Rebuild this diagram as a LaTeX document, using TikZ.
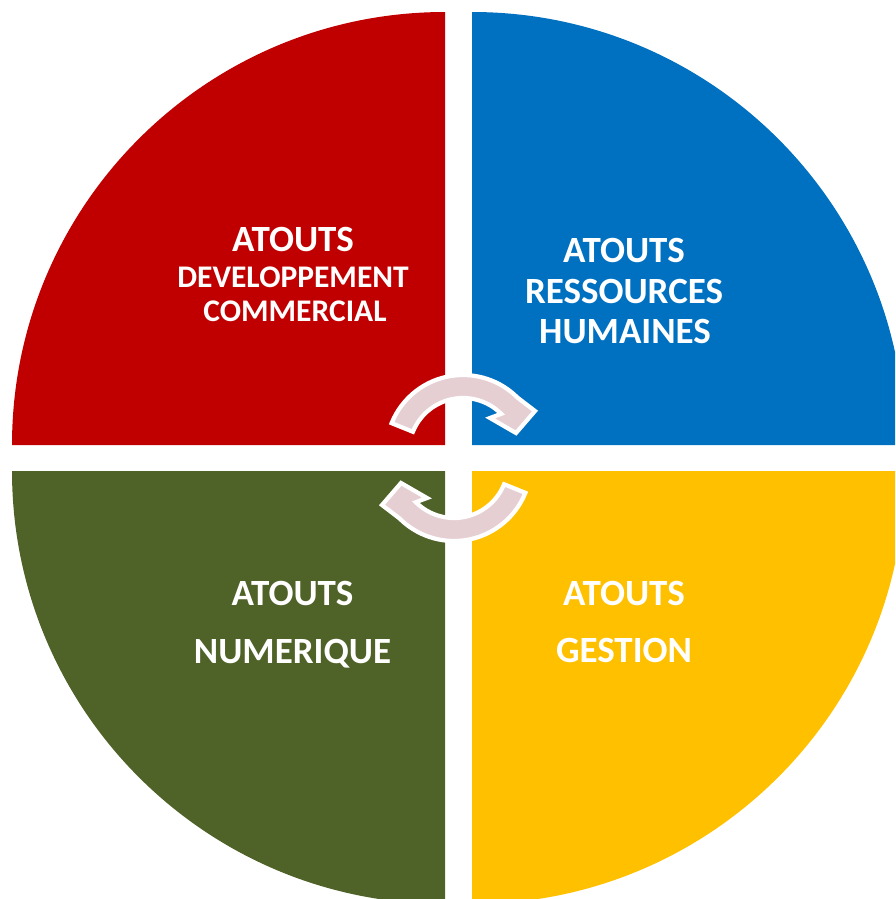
\documentclass[tikz,border=0pt]{standalone}
\usepackage{fontspec}
\setmainfont{Carlito}
\usetikzlibrary{calc}
\definecolor{qred}{HTML}{C00000}
\definecolor{qblue}{HTML}{0070C0}
\definecolor{qgreen}{HTML}{4F6228}
\definecolor{qyellow}{HTML}{FFC000}
\definecolor{arrowpink}{RGB}{230,207,211}
\tikzset{
  quad/.style={draw=none},
  lbl/.style={text=white, font=\fontsize{37}{37}\selectfont\bfseries, anchor=base, inner sep=0pt},
  lblsmall/.style={text=white, font=\fontsize{31.5}{31.5}\selectfont\bfseries, anchor=base, inner sep=0pt},
  cyc/.style={fill=arrowpink, draw=white, line width=4.2pt, line join=miter}
}
\begin{document}
\begin{tikzpicture}[x=1pt, y=-1pt]
\useasboundingbox (0,0) rectangle (895,899);
\clip (0,0) rectangle (895,899);
% quadrants
\fill[qred, quad] (445,445) -- (445,12) arc[start angle=-90, end angle=-180, radius=433] -- cycle;
\fill[qblue, quad] (472,445) -- (472,12) arc[start angle=-90, end angle=0, radius=433] -- cycle;
\fill[qgreen, quad] (445,471) -- (12,471) arc[start angle=180, end angle=90, radius=433] -- cycle;
\fill[qyellow, quad] (472,471) -- (905,471) arc[start angle=0, end angle=90, radius=433] -- cycle;
% circular arrows
\coordinate (c1) at (463,452);
\path[cyc] ($(c1)+(-158:54)$) -- ($(c1)+(-158:77)$)
  arc[start angle=-158, end angle=-45, radius=77]
  -- (535,411) -- (516,433) -- (490,418)
  -- ($(c1)+(-45:54)$)
  arc[start angle=-45, end angle=-158, radius=54] -- cycle;
\begin{scope}[rotate around={180:(458.5,458)}]
\coordinate (c2) at (463,452);
\path[cyc] ($(c2)+(-158:54)$) -- ($(c2)+(-158:77)$)
  arc[start angle=-158, end angle=-45, radius=77]
  -- (535,411) -- (516,433) -- (490,418)
  -- ($(c2)+(-45:54)$)
  arc[start angle=-45, end angle=-158, radius=54] -- cycle;
\end{scope}
% labels
\node[lbl] (r1) at (293,251) {ATOUTS};
\node[lblsmall] (r2) at (293,287) {DEVELOPPEMENT};
\node[lblsmall] (r3) at (295,321) {COMMERCIAL};
\node[lbl] (b1) at (624,262) {ATOUTS};
\node[lbl] (b2) at (624,303) {RESSOURCES};
\node[lbl] (b3) at (625,343) {HUMAINES};
\node[lbl] (g1) at (292.5,605) {ATOUTS};
\node[lbl] (g2) at (292.5,663) {NUMERIQUE};
\node[lbl] (y1) at (624,605) {ATOUTS};
\node[lbl] (y2) at (624,662) {GESTION};
\end{tikzpicture}
\end{document}
